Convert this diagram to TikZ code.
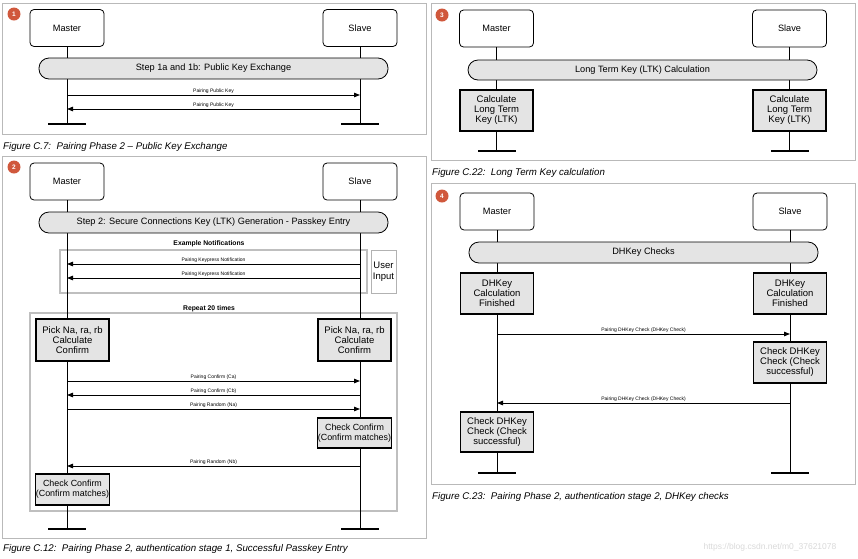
\documentclass[tikz,border=0pt]{standalone}
\usepackage{fontspec}
\setmainfont{Liberation Sans}
\usetikzlibrary{arrows.meta}
\definecolor{badgecol}{HTML}{D0583C}
\definecolor{boxfill}{HTML}{E4E4E4}
\begin{document}
\begin{tikzpicture}[x=1pt,y=-1pt,
  frame/.style={draw=gray!55, line width=0.9pt},
  badge/.style={circle, fill=badgecol, text=white, inner sep=0pt, minimum size=13pt, font=\fontsize{6.5}{7}\selectfont\bfseries},
  part/.style={draw, rounded corners=4pt, fill=white, line width=0.8pt, minimum width=74pt, minimum height=37pt, inner sep=0pt, font=\fontsize{9.2}{10}\selectfont},
  pill/.style={draw, fill=boxfill, rounded corners=10pt, line width=0.8pt, minimum width=349pt, minimum height=21pt, inner sep=0pt, font=\fontsize{9.2}{10}\selectfont},
  act/.style={draw, fill=boxfill, line width=1.3pt, minimum width=73pt, inner sep=0pt, align=center, font=\fontsize{9.5}{10}\selectfont},
  life/.style={line width=1pt},
  bar/.style={fill=black, minimum width=38pt, minimum height=2.6pt, inner sep=0pt},
  msg/.style={line width=0.9pt, -{Triangle[length=6pt,width=4.5pt]}},
  mlabel/.style={font=\fontsize{5}{5}\selectfont, inner sep=1.2pt, above},
  group/.style={draw=gray!50, line width=1.8pt},
  gtitle/.style={font=\fontsize{6.8}{7}\selectfont\bfseries, inner sep=0pt},
  caption/.style={anchor=base west, font=\fontsize{9.7}{10}\selectfont\itshape, inner sep=0pt}
]
\useasboundingbox (0,0) rectangle (858,558);

% ---------------- Panel 1 ----------------
\draw[frame] (2,3) rectangle (426,134);
\node[badge] (b1) at (14,14) {1};
\node[part] (m1) at (67,28) {Master};
\node[part] (s1) at (360,28) {Slave};
\node[bar] (m1e) at (67,124) {};
\node[bar] (s1e) at (360,124) {};
\draw[life] (m1) -- (m1e);
\draw[life] (s1) -- (s1e);
\node[pill] (p1) at (213.5,68.5) {Step 1a and 1b: Public Key Exchange};
\coordinate (m1a) at (67,95);  \coordinate (s1a) at (360,95);
\coordinate (m1b) at (67,109); \coordinate (s1b) at (360,109);
\draw[msg] (m1a) -- node[mlabel]{Pairing Public Key} (s1a);
\draw[msg] (s1b) -- node[mlabel]{Pairing Public Key} (m1b);
\node[caption] (c1) at (3,149.5) {Figure C.7:\ \ Pairing Phase 2 -- Public Key Exchange};

% ---------------- Panel 2 ----------------
\draw[frame] (2,156) rectangle (426,538);
\node[badge] (b2) at (14,167) {2};
\node[gtitle] (g1t) at (209,244) {Example Notifications};
\draw[group] (60,250) rectangle (367,293);
\node[gtitle] (g2t) at (209,309) {Repeat 20 times};
\draw[group] (30,313) rectangle (397,511);
\node[part] (m2) at (67,181.5) {Master};
\node[part] (s2) at (360,181.5) {Slave};
\node[bar] (m2e) at (67,529) {};
\node[bar] (s2e) at (360,529) {};
\draw[life] (m2) -- (m2e);
\draw[life] (s2) -- (s2e);
\node[pill] (p2) at (213.5,222.5) {Step 2: Secure Connections Key (LTK) Generation - Passkey Entry};
\node[draw=gray!60, line width=0.6pt, minimum width=25pt, minimum height=43pt, inner sep=0pt, align=center, font=\fontsize{9.5}{11}\selectfont] (ui) at (383.5,271.5) {User\\Input};
\coordinate (m2a) at (67,264); \coordinate (s2a) at (360,264);
\coordinate (m2b) at (67,278); \coordinate (s2b) at (360,278);
\draw[msg] (s2a) -- node[mlabel]{Pairing Keypress Notification} (m2a);
\draw[msg] (s2b) -- node[mlabel]{Pairing Keypress Notification} (m2b);
\node[act, minimum height=42pt] (pm) at (72.5,340) {Pick Na, ra, rb\\Calculate\\Confirm};
\node[act, minimum height=42pt] (ps) at (354.5,340) {Pick Na, ra, rb\\Calculate\\Confirm};
\coordinate (m2c) at (67,381); \coordinate (s2c) at (360,381);
\coordinate (m2d) at (67,395); \coordinate (s2d) at (360,395);
\coordinate (m2f) at (67,409); \coordinate (s2f) at (360,409);
\draw[msg] (m2c) -- node[mlabel]{Pairing Confirm (Ca)} (s2c);
\draw[msg] (s2d) -- node[mlabel]{Pairing Confirm (Cb)} (m2d);
\draw[msg] (m2f) -- node[mlabel]{Pairing Random (Na)} (s2f);
\node[act, minimum height=30pt, minimum width=74pt, font=\fontsize{8.9}{10}\selectfont] (cs) at (354.5,433) {Check Confirm\\(Confirm matches)};
\coordinate (m2g) at (67,466); \coordinate (s2g) at (360,466);
\draw[msg] (s2g) -- node[mlabel]{Pairing Random (Nb)} (m2g);
\node[act, minimum height=31pt, minimum width=74pt, font=\fontsize{8.9}{10}\selectfont] (cm) at (72.5,489.5) {Check Confirm\\(Confirm matches)};
\node[caption] (c2) at (3,551.5) {Figure C.12:\ \ Pairing Phase 2, authentication stage 1, Successful Passkey Entry};

% ---------------- Panel 3 ----------------
\draw[frame] (431,3) rectangle (855,160);
\node[badge] (b3) at (442,15) {3};
\node[part] (m3) at (496.5,28.5) {Master};
\node[part] (s3) at (789.5,28.5) {Slave};
\node[bar] (m3e) at (496.5,151) {};
\node[bar] (s3e) at (789.5,151) {};
\draw[life] (m3) -- (m3e);
\draw[life] (s3) -- (s3e);
\node[pill, minimum height=20pt] (p3) at (642.5,70) {Long Term Key (LTK) Calculation};
\node[act, minimum height=41pt] (lm) at (496.5,110.5) {Calculate\\Long Term\\Key (LTK)};
\node[act, minimum height=41pt] (ls) at (789.5,110.5) {Calculate\\Long Term\\Key (LTK)};
\node[caption] (c3) at (432,175.5) {Figure C.22:\ \ Long Term Key calculation};

% ---------------- Panel 4 ----------------
\draw[frame] (431,183) rectangle (855,484);
\node[badge] (b4) at (442,196) {4};
\node[part] (m4) at (497,211.5) {Master};
\node[part] (s4) at (790,211.5) {Slave};
\node[bar] (m4e) at (497,473) {};
\node[bar] (s4e) at (790,473) {};
\draw[life] (m4) -- (m4e);
\draw[life] (s4) -- (s4e);
\node[pill] (p4) at (643.5,252.5) {DHKey Checks};
\node[act, minimum height=41pt] (dm) at (497,293.5) {DHKey\\Calculation\\Finished};
\node[act, minimum height=41pt] (ds) at (790,293.5) {DHKey\\Calculation\\Finished};
\coordinate (m4a) at (497,334); \coordinate (s4a) at (790,334);
\draw[msg] (m4a) -- node[mlabel]{Pairing DHKey Check (DHKey Check)} (s4a);
\node[act, minimum height=41pt] (ks) at (790,362.5) {Check DHKey\\Check (Check\\successful)};
\coordinate (m4b) at (497,403); \coordinate (s4b) at (790,403);
\draw[msg] (s4b) -- node[mlabel]{Pairing DHKey Check (DHKey Check)} (m4b);
\node[act, minimum height=40pt] (km) at (497,432) {Check DHKey\\Check (Check\\successful)};
\node[caption] (c4) at (432,499.5) {Figure C.23:\ \ Pairing Phase 2, authentication stage 2, DHKey checks};

% watermark
\node[text=gray!30, font=\fontsize{8.5}{9}\selectfont, inner sep=0pt] (wm) at (770,547) {https://blog.csdn.net/m0\_37621078};
\end{tikzpicture}
\end{document}
